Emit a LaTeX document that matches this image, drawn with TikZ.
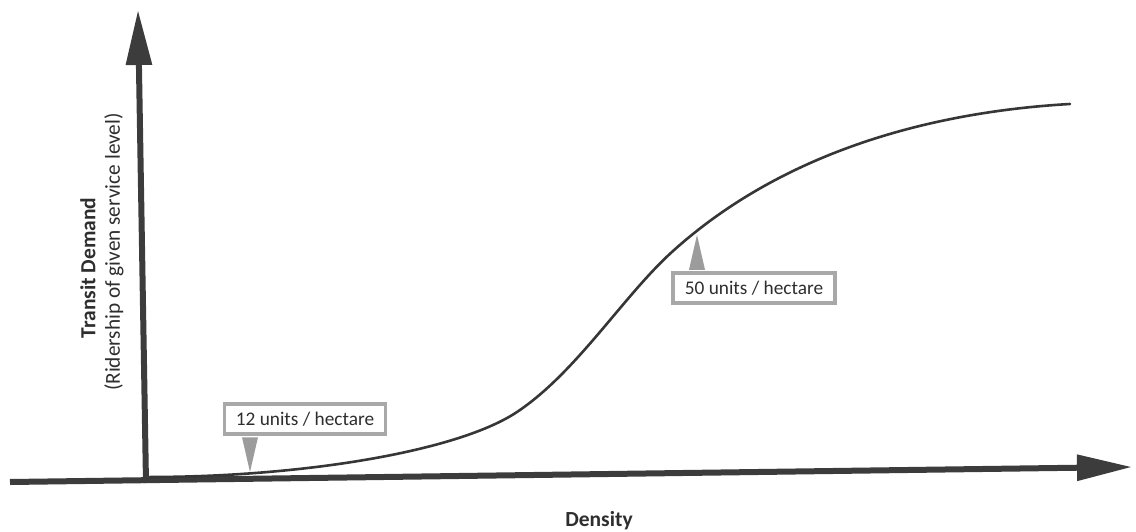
\documentclass[tikz,border=0pt]{standalone}
\usepackage{fontspec}
\setmainfont{Carlito}
\usetikzlibrary{arrows.meta}
\definecolor{axisgray}{HTML}{3C3C3C}
\definecolor{boxgray}{HTML}{A8A8A8}
\definecolor{ptrgray}{HTML}{9C9C9C}
\definecolor{txtgray}{HTML}{2E2E2E}
\begin{document}
\begin{tikzpicture}[x=1pt,y=-1pt,
  axisline/.style={draw=axisgray,line width=6pt,-{Triangle[length=55pt,width=25pt]}},
  curveline/.style={draw=axisgray!90!black,line width=2.6pt,line cap=round},
  callout/.style={draw=boxgray,line width=3.5pt,fill=white,minimum height=30pt,inner sep=0pt,font=\fontsize{19.3}{21}\selectfont,text=txtgray},
  pointer/.style={fill=ptrgray,draw=none},
  axislabel/.style={font=\bfseries\fontsize{21.5}{24}\selectfont,text=txtgray},
  axissub/.style={font=\fontsize{21.3}{24}\selectfont,text=txtgray}]
\useasboundingbox (0,0) rectangle (1136,532);
\coordinate (xs) at (10,482);
\coordinate (xt) at (1132,467);
\coordinate (yb) at (146,483);
\coordinate (yt) at (138,10);
\draw[axisline] (yb) -- (yt);
\draw[axisline] (xs) -- (xt);
\coordinate (k0) at (150,477);
\coordinate (k1) at (517,412);
\coordinate (k2) at (673,251);
\coordinate (k3) at (1070,104);
\draw[curveline] (k0) .. controls (300,477) and (457,452) .. (k1)
  .. controls (577,372) and (623,296) .. (k2)
  .. controls (783,152) and (930,112) .. (k3);
% callout 1
\node[callout,minimum width=161pt] (c1) at (305,419) {12 units / hectare};
\coordinate (p1) at (250,472);
\fill[pointer] ([xshift=-8pt,yshift=-1.5pt]c1.south west -| p1) -- (p1) -- ([xshift=8pt,yshift=-1.5pt]c1.south west -| p1) -- cycle;
% callout 2
\node[callout,minimum width=162pt] (c2) at (754,288) {50 units / hectare};
\coordinate (p2) at (697,235);
\fill[pointer] ([xshift=-8pt,yshift=1.5pt]c2.north west -| p2) -- (p2) -- ([xshift=8pt,yshift=1.5pt]c2.north west -| p2) -- cycle;
% labels
\node[axislabel,rotate=90] (ylab) at (88,268) {Transit Demand};
\node[axissub,rotate=90] (ysub) at (114,252) {(Ridership of given service level)};
\node[axislabel] (xlab) at (599,521) {Density};
\end{tikzpicture}
\end{document}
